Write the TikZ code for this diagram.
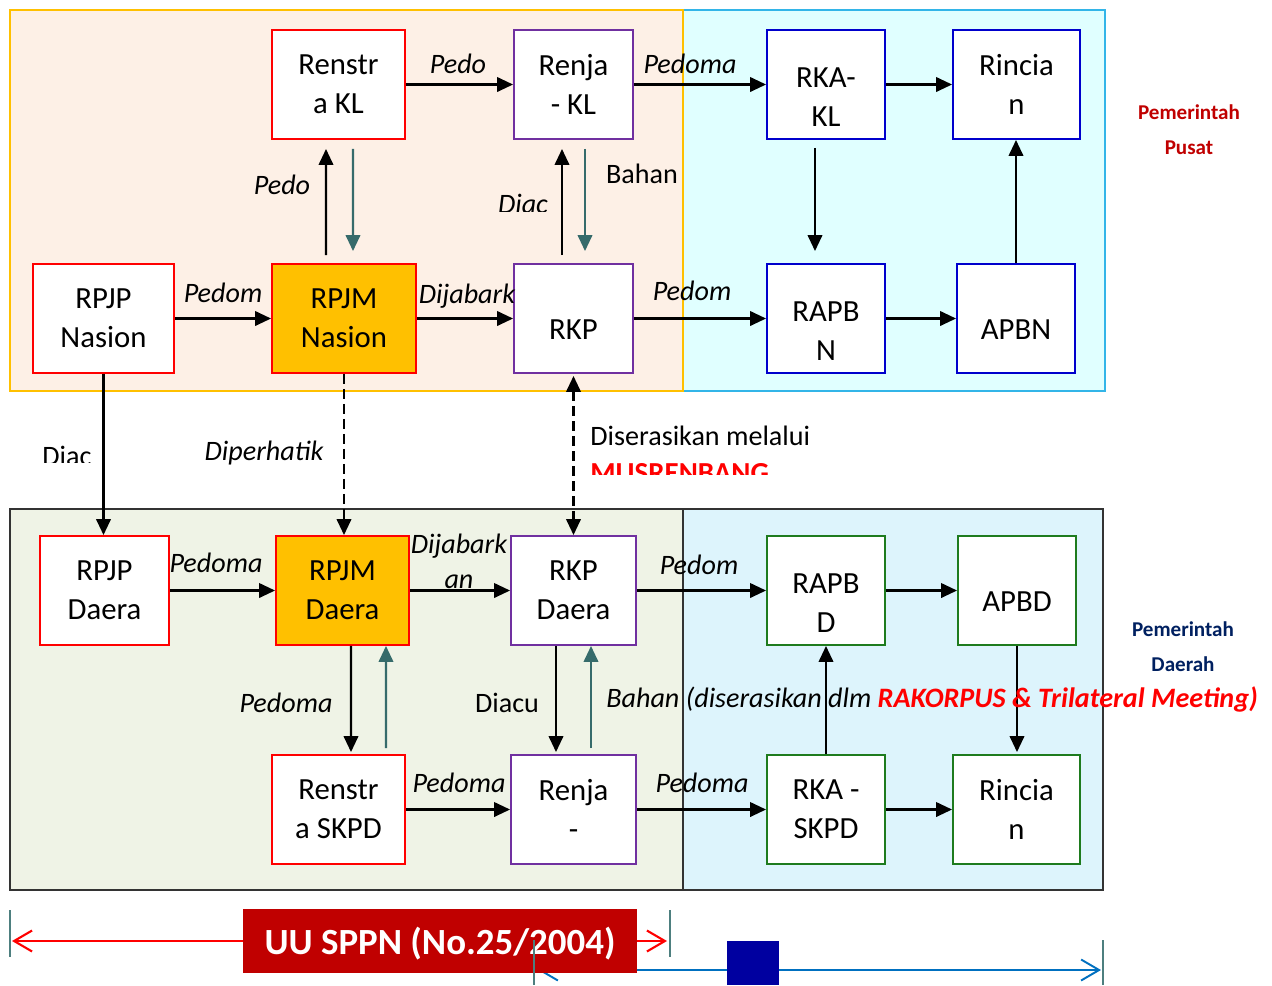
\documentclass[tikz,border=0pt]{standalone}
\usepackage{fontspec}
\setmainfont{Carlito}
\usetikzlibrary{arrows.meta}

\definecolor{cred}{HTML}{FF0000}
\definecolor{cpurple}{HTML}{7030A0}
\definecolor{cblue}{HTML}{0000CC}
\definecolor{cgreen}{HTML}{1E7B1E}
\definecolor{corange}{HTML}{FFC000}
\definecolor{cteal}{HTML}{366B6B}
\definecolor{cdarkred}{HTML}{C00000}
\definecolor{cnavy}{HTML}{002060}
\definecolor{peach}{HTML}{FDF0E6}
\definecolor{aqua}{HTML}{E0FFFF}
\definecolor{aqualine}{HTML}{33B5E8}
\definecolor{olivebg}{HTML}{EFF3E6}
\definecolor{skybg}{HTML}{DDF4FC}
\definecolor{lineblue}{HTML}{0070C0}
\definecolor{sqblue}{HTML}{0000A0}
\definecolor{tickc}{HTML}{4D7F7F}

\newcommand\bxfont{\fontsize{17.5}{22}\selectfont}
\newcommand\lbfont{\fontsize{16}{20}\selectfont}
\newcommand\pushdn{\rule{0pt}{0.89cm}}

\tikzset{
  box/.style={draw, line width=1.1pt, fill=white, align=center, inner sep=0pt,
    minimum width=#1, minimum height=2.18cm, font=\bxfont},
  rbox/.style={box=#1, draw=cred},
  pbox/.style={box=#1, draw=cpurple},
  bbox/.style={box=#1, draw=cblue},
  gbox/.style={box=#1, draw=cgreen},
  obox/.style={rbox=#1, fill=corange},
  single/.style={text height=1.14cm, text depth=0.3cm},
  arr/.style={line width=1.3pt, ->},
  back/.style={arr, draw=cteal},
  dsh/.style={arr, dash pattern=on 0.2cm off 0.1cm},
  gap/.style={shorten <=0.16cm, shorten >=0.18cm},
  lbl/.style={font=\lbfont\itshape, anchor=base, inner sep=0pt},
  txt/.style={font=\lbfont, anchor=base, inner sep=0pt},
  region/.style={line width=1.1pt},
  tick/.style={line width=1.1pt, draw=tickc},
  barb/.tip={Straight Barb[length=0.36cm,width=0.42cm]},
}

\begin{document}
\begin{tikzpicture}[x=0.02cm, y=-0.02cm, >={Triangle[length=0.32cm,width=0.29cm]}]
    \useasboundingbox (0,0) rectangle (1272,985);

    % areas
    \draw[region, draw=aqualine, fill=aqua] (683,10) rectangle (1105,391);
    \draw[region, draw=corange, fill=peach] (10,10) rectangle (683,391);
    \draw[region, draw=black!80, fill=olivebg] (10,509) rectangle (683,890);
    \draw[region, draw=black!80, fill=skybg] (683,509) rectangle (1103,890);

    % pusat
    \node[rbox=2.66cm] (renstrakl) at (338.5,84.5) {Renstr\\a KL};
    \node[pbox=2.38cm] (renjakl) at (573.5,84.5) {Renja\\- KL};
    \node[bbox=2.36cm] (rkakl) at (826,84.5) {\pushdn RKA-\\KL};
    \node[bbox=2.54cm] (rincikl) at (1016.5,84.5) {Rincia\\n};
    \node[rbox=2.82cm] (rpjpnas) at (103.5,318.5) {RPJP\\Nasion};
    \node[obox=2.88cm] (rpjmnas) at (344,318.5) {RPJM\\Nasion};
    \node[pbox=2.38cm, single] (rkp) at (573.5,318.5) {RKP};
    \node[bbox=2.36cm] (rapbn) at (826,318.5) {\pushdn RAPB\\N};
    \node[bbox=2.36cm, single] (apbn) at (1016,318.5) {APBN};

    % daerah
    \node[rbox=2.58cm] (rpjpda) at (104.5,590.5) {RPJP\\Daera};
    \node[obox=2.66cm] (rpjmda) at (342.5,590.5) {RPJM\\Daera};
    \node[pbox=2.5cm] (rkpda) at (573.5,590.5) {RKP\\Daera};
    \node[gbox=2.36cm] (rapbd) at (826,590.5) {\pushdn RAPB\\D};
    \node[gbox=2.36cm, single] (apbd) at (1017,590.5) {APBD};
    \node[rbox=2.66cm] (renstrada) at (338.5,809.5) {Renstr\\a SKPD};
    \node[pbox=2.5cm] (renjada) at (573.5,809.5) {Renja\\-};
    \node[gbox=2.36cm] (rkada) at (826,809.5) {RKA -\\SKPD};
    \node[gbox=2.54cm] (rincida) at (1016.5,809.5) {Rincia\\n};

    \draw[arr] (renstrakl) -- (renjakl);
    \draw[arr] (renjakl) -- (rkakl);
    \draw[arr] (rkakl) -- (rincikl);
    \draw[arr] (rpjpnas) -- (rpjmnas);
    \draw[arr] (rpjmnas) -- (rkp);
    \draw[arr] (rkp) -- (rapbn);
    \draw[arr] (rapbn) -- (apbn);
    \draw[arr] (rpjpda) -- (rpjmda);
    \draw[arr] (rpjmda) -- (rkpda);
    \draw[arr] (rkpda) -- (rapbd);
    \draw[arr] (rapbd) -- (apbd);
    \draw[arr] (renstrada) -- (renjada);
    \draw[arr] (renjada) -- (rkada);
    \draw[arr] (rkada) -- (rincida);

    \draw[arr, gap] ([xshift=-0.36cm]rpjmnas.north) -- ([xshift=-0.25cm]renstrakl.south);
    \draw[back, shorten <=0.18cm, shorten >=0.24cm] ([xshift=0.29cm]renstrakl.south) -- ([xshift=0.18cm]rpjmnas.north);
    \draw[arr, gap] ([xshift=-0.23cm]rkp.north) -- ([xshift=-0.23cm]renjakl.south);
    \draw[back, shorten <=0.18cm, shorten >=0.24cm] ([xshift=0.23cm]renjakl.south) -- ([xshift=0.23cm]rkp.north);
    \draw[arr, shorten <=0.16cm, shorten >=0.24cm] ([xshift=-0.22cm]rkakl.south) -- ([xshift=-0.22cm]rapbn.north);
    \draw[arr] (apbn.north) -- (apbn.north |- rincikl.south);

    \draw[arr] (rpjpnas.south) -- (rpjpnas.south |- rpjpda.north);
    \draw[dsh] (rpjmnas.south) -- (rpjmnas.south |- rpjmda.north);
    \draw[dsh, <->, shorten <=0.04cm] (rkp.south) -- (rkpda.north);

    \draw[arr, shorten >=0.04cm] ([xshift=0.17cm]rpjmda.south) -- ([xshift=0.25cm]renstrada.north);
    \draw[back, shorten <=0.12cm] ([xshift=0.95cm]renstrada.north) -- ([xshift=0.87cm]rpjmda.south);
    \draw[arr, shorten >=0.04cm] ([xshift=-0.35cm]rkpda.south) -- ([xshift=-0.35cm]renjada.north);
    \draw[back, shorten <=0.12cm] ([xshift=0.35cm]renjada.north) -- ([xshift=0.35cm]rkpda.south);
    \draw[arr] (rkada.north) -- (rapbd.south);
    \draw[arr, shorten >=0.04cm] (apbd.south) -- (apbd.south |- rincida.north);

    % labels
    \node[lbl] (lpedo) at (458,73) {Pedo};
    \node[lbl] (lpedoma) at (690,73) {Pedoma};
    \node[lbl] (lpedob) at (282,194) {Pedo};
    \node[txt] (lbahan) at (642,183) {Bahan};
    \begin{scope}
      \clip (480,180) rectangle (560,211);
      \node[lbl] (ldiac) at (523,213) {Diac};
    \end{scope}
    \node[lbl] (lpedom) at (223,302) {Pedom};
    \node[lbl] (ldijabark) at (467,303) {Dijabark};
    \node[lbl] (lpedomb) at (692,300) {Pedom};
    \begin{scope}
      \clip (30,430) rectangle (100,462);
      \node[txt] (ldiacb) at (67,465) {Diac};
    \end{scope}
    \node[lbl] (ldiperhatik) at (264,460) {Diperhatik};
    \node[txt, anchor=base west] (lserasi) at (590,445) {Diserasikan melalui};
    \begin{scope}
      \clip (585,455) rectangle (800,474);
      \node[txt, anchor=base west, font=\fontsize{16.5}{20}\selectfont\bfseries, text=cred] (lmusren) at (590,482) {MUSRENBANG};
    \end{scope}
    \node[lbl] (lpedomac) at (216,572) {Pedoma};
    \node[lbl, anchor=center, align=center] (ldijabarkb) at (459,561) {Dijabark\\an};
    \node[lbl] (lpedomc) at (699,574) {Pedom};
    \node[lbl] (lpedomad) at (286,712) {Pedoma};
    \node[txt] (ldiacu) at (507,712) {Diacu};
    \node[lbl, anchor=base west] (lbahanb) at (606,707) {Bahan (diserasikan dlm \textcolor{cred}{\bfseries RAKORPUS \& Trilateral Meeting)}};
    \node[lbl] (lpedomae) at (459,792) {Pedoma};
    \node[lbl] (lpedomaf) at (702,792) {Pedoma};

    \node[font=\fontsize{12}{20}\selectfont\bfseries, text=cdarkred, align=center] (pusat) at (1189,130) {Pemerintah\\Pusat};
    \node[font=\fontsize{12}{20}\selectfont\bfseries, text=cnavy, align=center] (daerah) at (1183,647) {Pemerintah\\Daerah};

    % bottom bar
    \draw[tick] (10,910) -- (10,957);
    \draw[tick] (670,910) -- (670,957);
    \draw[tick] (1103,940) -- (1103,985);
    \coordinate (bl) at (538,970);
    \coordinate (br) at (1101,970);
    \draw[line width=1.1pt, draw=lineblue, barb-barb] (bl) -- (br);
    \fill[sqblue] (727,941) rectangle (779,985);
    \node[fill=cdarkred, text=white, font=\fontsize{21}{24}\selectfont\bfseries, minimum width=7.88cm, minimum height=1.28cm, inner sep=0pt, text height=0.7cm, text depth=0.18cm] (uu) at (440,941) {UU SPPN (No.25/2004)};
    \coordinate (rl) at (12,941);
    \coordinate (rr) at (667,941);
    \draw[line width=1.2pt, draw=cred, -barb] (uu.west) -- (rl);
    \draw[line width=1.2pt, draw=cred, -barb] (uu.east) -- (rr);
    \draw[tick] (534,940) -- (534,985);
\end{tikzpicture}
\end{document}
